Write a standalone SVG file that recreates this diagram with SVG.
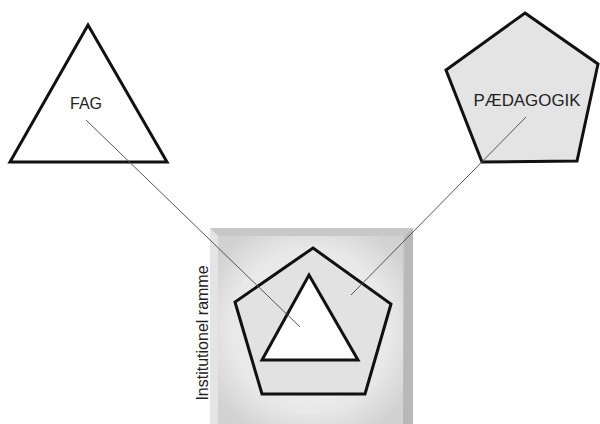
<svg xmlns="http://www.w3.org/2000/svg" width="600" height="424" viewBox="0 0 600 424">
<style>
.shape{stroke:#111;stroke-width:3;stroke-linejoin:miter}
.lbl{font-family:"Liberation Sans",Arial,sans-serif;font-size:16px;fill:#222}
.conn{stroke:#555;stroke-width:1;fill:none}
</style>
<defs>
<radialGradient id="inner" cx="0.5" cy="0.5" r="0.62">
<stop offset="0" stop-color="#f6f6f6"/>
<stop offset="0.7" stop-color="#e8e8e8"/>
<stop offset="1" stop-color="#d2d2d2"/>
</radialGradient>
</defs>
<rect width="600" height="424" fill="#fff"/>
<g id="frame">
<rect x="210" y="228" width="203" height="196" fill="#c4c4c4"/>
<polygon points="210,228 413,228 405,236 218,236" fill="#c8c8c8"/>
<polygon points="413,228 413,424 403,424 405,236" fill="#b8b8b8"/>
<polygon points="210,228 218,236 218,424 210,424" fill="#e4e4e4"/>
<rect x="218" y="236" width="185" height="188" fill="url(#inner)"/>
<text class="lbl" transform="translate(208,333) rotate(-90)" text-anchor="middle" font-size="14">Institutionel ramme</text>
</g>
<g id="paedagogik-inner">
<polygon class="shape" points="313,248 391,304 365,394 262,394 235,302" fill="#e2e2e2"/>
</g>
<g id="fag-inner">
<polygon class="shape" points="309,275 358,360 262,360" fill="#fff"/>
</g>
<g id="fag">
<polygon class="shape" points="88,25 167,162 10,162" fill="#fff"/>
<text class="lbl" x="86" y="109" text-anchor="middle">FAG</text>
</g>
<g id="paedagogik">
<polygon class="shape" points="525,13 598,64 577,161 482,162 446,70" fill="#e4e4e4"/>
<text class="lbl" x="527" y="106" text-anchor="middle" textLength="107" lengthAdjust="spacingAndGlyphs">PÆDAGOGIK</text>
</g>
<g id="connectors">
<line class="conn" x1="86" y1="120" x2="300" y2="327"/>
<line class="conn" x1="526" y1="117" x2="351" y2="295"/>
</g>
</svg>
